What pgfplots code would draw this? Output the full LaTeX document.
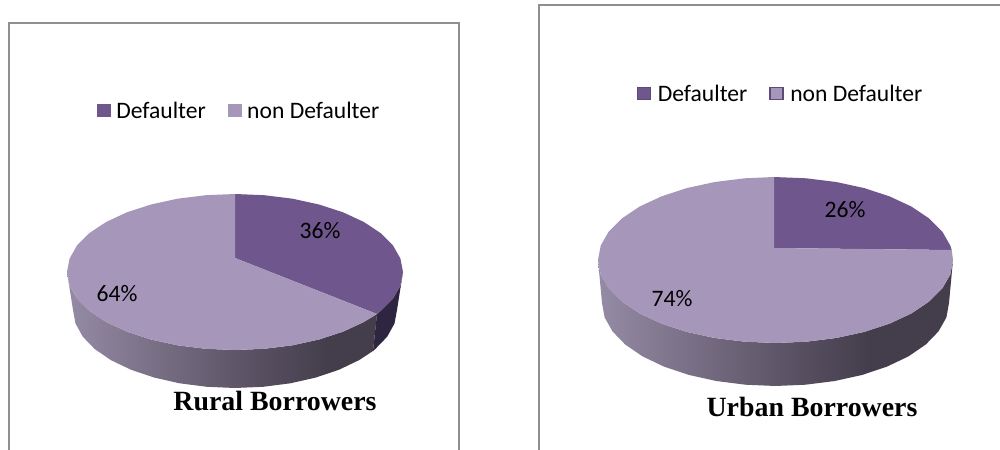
\documentclass[border=0pt]{standalone}
\usepackage{fontspec}
\usepackage{pgfplots}
\pgfplotsset{compat=1.18}
\setmainfont{Carlito}
\newfontfamily\tnr{Liberation Serif}
\definecolor{defc}{HTML}{6F578D}
\definecolor{nonc}{HTML}{A697BA}
\definecolor{darkside}{HTML}{2E2640}
\definecolor{frame}{HTML}{8F8F8F}
\definecolor{sideA}{HTML}{958BA5}
\definecolor{sideB}{HTML}{5F5669}
\definecolor{sideC}{HTML}{443E4C}
\pgfdeclarehorizontalshading{sideleft}{100bp}{color(0bp)=(sideA);color(25bp)=(sideA);color(52bp)=(sideB);color(67bp)=(sideC);color(100bp)=(sideC)}
\pgfdeclarehorizontalshading{sideright}{100bp}{color(0bp)=(sideA);color(25bp)=(sideA);color(50bp)=(sideB);color(63bp)=(sideC);color(100bp)=(sideC)}
\newcommand{\lab}{\fontsize{17.7}{20}\selectfont}
\newcommand{\ttl}{\tnr\bfseries\fontsize{20.9}{24}\selectfont}
\pgfplotsset{pixel axis/.style={
  at={(0,0)},anchor=south west,
  width=750pt,height=337.5pt,scale only axis,
  xmin=0,xmax=1000,ymin=0,ymax=450,y dir=reverse,
  axis lines=none,
  legend columns=2,
  legend cell align=left,
}}
\begin{document}
\begin{tikzpicture}
\begin{axis}[pixel axis,
  legend style={at={(0.097,0.7525)},anchor=west,draw=none,fill=none,font=\lab,inner sep=0pt,outer sep=0pt,
    /tikz/every even column/.append style={column sep=16.5pt},
    nodes={inner xsep=0pt,inner ysep=1pt}},
  legend image code/.code={\fill[#1] (0pt,-4.5pt) rectangle (10.5pt,5.5pt);\path (14.5pt,0pt);},
]
\addplot[forget plot,fill=white,draw=none] coordinates {(0,0)(1000,0)(1000,450)(0,450)} -- cycle;
\addplot[forget plot,draw=frame,line width=1.1pt] coordinates {(9,450)(9,23)(459,23)(459,450)};
% side, light part
\addplot[forget plot,draw=none,shading=sideleft] coordinates {
(377,314)(363.7,322.1)(343,331.7)(319,339.5)(292.5,345.3)(264.2,348.8)(235,350)(205.8,348.8)(177.5,345.3)(151,339.5)(127,331.7)(106.3,322.1)(89.5,311)(77.1,298.7)(69.6,285.5)(67,272)
(73,310)(75.5,323.5)(82.8,336.7)(94.7,349)(110.9,360.1)(130.9,369.7)(154,377.5)(179.6,383.3)(206.9,386.8)(235,388)(263.1,386.8)(290.4,383.3)(316,377.5)(339.1,369.7)(359.1,360.1)(373,351)} -- cycle;
% side, dark part
\addplot[forget plot,draw=none,fill=darkside] coordinates {
(403,272)(400.4,285.5)(392.9,298.7)(380.5,311)(377,314)(373,351)(375.3,349)(387.2,336.7)(394.5,323.5)(397,310)} -- cycle;
% Defaulter 36
\addplot[fill=defc,draw=none] coordinates {
(235,258)(235,194)(264.2,195.2)(292.5,198.7)(319,204.5)(343,212.3)(363.7,221.9)(380.5,233)(392.9,245.3)(400.4,258.5)(403,272)(400.4,285.5)(392.9,298.7)(380.5,311)(377,314)} -- cycle;
\addlegendentry{Defaulter}
% non Defaulter 64
\addplot[fill=nonc,draw=none] coordinates {
(235,258)(377,314)(363.7,322.1)(343,331.7)(319,339.5)(292.5,345.3)(264.2,348.8)(235,350)(205.8,348.8)(177.5,345.3)(151,339.5)(127,331.7)(106.3,322.1)(89.5,311)(77.1,298.7)(69.6,285.5)(67,272)(69.6,258.5)(77.1,245.3)(89.5,233)(106.3,221.9)(127,212.3)(151,204.5)(177.5,198.7)(205.8,195.2)(235,194)} -- cycle;
\addlegendentry{non Defaulter}
\node[font=\lab] at (axis cs:320,231) {36\%};
\node[font=\lab] at (axis cs:117,294) {64\%};
\node[font=\ttl] at (axis cs:275,401) {Rural Borrowers};
\end{axis}
\begin{axis}[pixel axis,
  legend style={at={(0.637,0.7905)},anchor=west,draw=none,fill=none,font=\lab,inner sep=0pt,outer sep=0pt,
    /tikz/every even column/.append style={column sep=16.5pt},
    nodes={inner xsep=0pt,inner ysep=1pt}},
  legend image code/.code={\filldraw[#1,draw=defc!85!black,line width=0.9pt] (0.5pt,-4.2pt) rectangle (10.3pt,5.2pt);\path (15.7pt,0pt);},
]
\addplot[forget plot,draw=frame,line width=1.1pt] coordinates {(539,450)(539,5)(1000,5)};
\addplot[forget plot,draw=none,shading=sideright] coordinates {
(953,260)(950.3,274.4)(942.3,288.4)(929.2,301.5)(911.5,313.4)(889.6,323.6)(864.3,331.9)(836.2,338)(806.3,341.7)(775.5,343)(744.7,341.7)(714.8,338)(686.7,331.9)(661.4,323.6)(639.5,313.4)(621.8,301.5)(608.7,288.4)(600.7,274.4)(598,260)
(602,303)(604.6,317.4)(612.5,331.4)(625.2,344.5)(642.6,356.4)(664,366.6)(688.7,374.9)(716.2,381)(745.4,384.7)(775.5,386)(805.6,384.7)(834.8,381)(862.3,374.9)(887,366.6)(908.4,356.4)(925.8,344.5)(938.5,331.4)(946.4,317.4)(949,303)} -- cycle;
% Defaulter 26
\addplot[fill=defc,draw=none] coordinates {
(774,248)(774,177)(806.3,178.3)(836.2,182)(864.3,188.1)(889.6,196.4)(911.5,206.6)(929.2,218.5)(942.3,231.6)(950.3,245.6)(951.7,250)} -- cycle;
\addlegendentry{Defaulter}
% non Defaulter 74
\addplot[fill=nonc,draw=none] coordinates {
(774,248)(951.7,250)(953,260)(950.3,274.4)(942.3,288.4)(929.2,301.5)(911.5,313.4)(889.6,323.6)(864.3,331.9)(836.2,338)(806.3,341.7)(775.5,343)(744.7,341.7)(714.8,338)(686.7,331.9)(661.4,323.6)(639.5,313.4)(621.8,301.5)(608.7,288.4)(600.7,274.4)(598,260)(600.7,245.6)(608.7,231.6)(621.8,218.5)(639.5,206.6)(661.4,196.4)(686.7,188.1)(714.8,182)(744.7,178.3)(774,177)} -- cycle;
\addlegendentry{non Defaulter}
\node[font=\lab] at (axis cs:845,210) {26\%};
\node[font=\lab] at (axis cs:672,299) {74\%};
\node[font=\ttl] at (axis cs:812,407) {Urban Borrowers};
\end{axis}
\end{tikzpicture}
\end{document}
